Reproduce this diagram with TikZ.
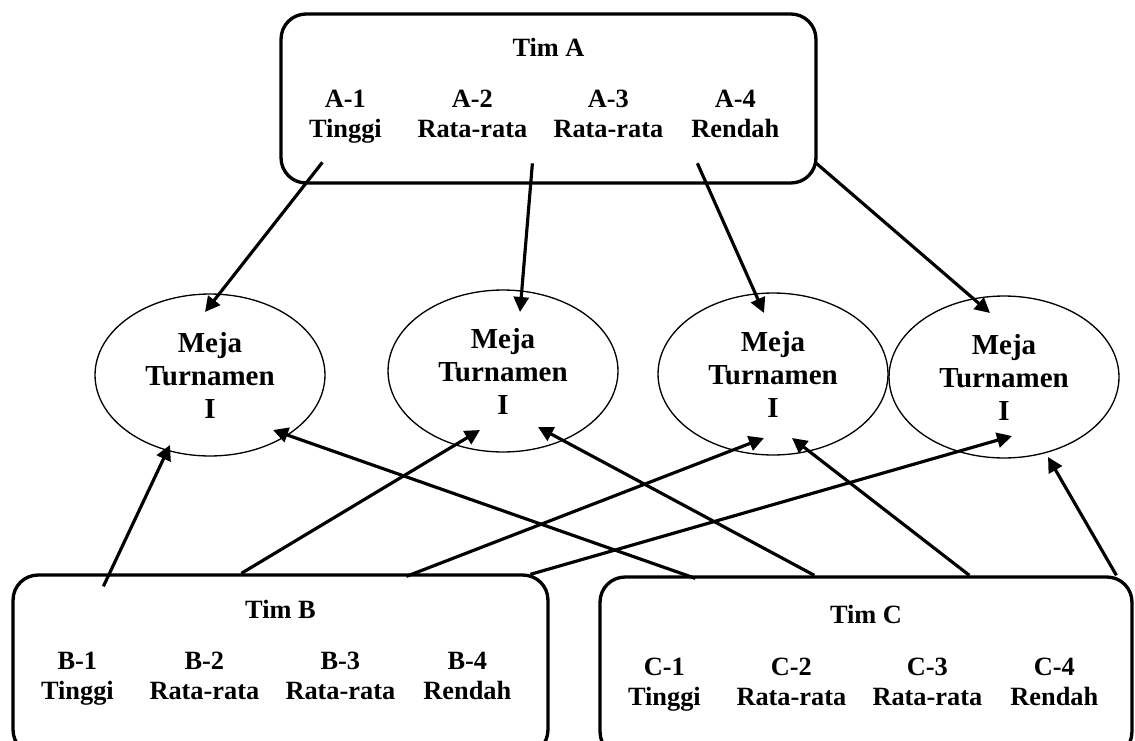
\documentclass[tikz,border=0pt]{standalone}
\usepackage{fontspec}
\setmainfont{Liberation Serif}
\usetikzlibrary{calc,arrows.meta,shapes.geometric}

\begin{document}
\begin{tikzpicture}[x=0.02cm,y=-0.02cm,line width=1.8pt,>={Triangle[length=3mm,width=3mm]},
  tim/.style={draw,line width=1.9pt,rounded corners=0.5cm,minimum width=10.7cm,minimum height=3.6cm,inner sep=0pt},
  meja/.style={draw,ellipse,line width=0.75pt,minimum width=4.6cm,minimum height=3.24cm,inner sep=0pt,align=center,font=\fontsize{16.5}{18.8}\selectfont\bfseries},
  anggota/.style={align=center,text depth=4pt,font=\fontsize{15}{17}\selectfont\bfseries}]
  \clip (0,0) rectangle (1135,740);
  % kotak tim
  \node[tim,minimum height=3.38cm] (timA) at (548.5,98.5){};
  \node[tim] (timB) at (280.5,665){};
  \node[tim,minimum width=10.64cm] (timC) at (866,667){};
  \node[anggota] (tA) at ($(timA.north)+(0,39)$){Tim A};
  \node[anggota] (tB) at ($(timB.north)+(0,40)$){Tim B};
  \node[anggota] (tC) at ($(timC.north)+(0,43)$){Tim C};
  \node[anggota] (a1) at ($(timA.north west)+(66,105)$){A-1\\Tinggi};
  \node[anggota] (a2) at ($(timA.north west)+(193,105)$){A-2\\Rata-rata};
  \node[anggota] (a3) at ($(timA.north west)+(329,105)$){A-3\\Rata-rata};
  \node[anggota] (a4) at ($(timA.north west)+(456,105)$){A-4\\Rendah};
  \node[anggota] (b1) at ($(timB.north west)+(66,106)$){B-1\\Tinggi};
  \node[anggota] (b2) at ($(timB.north west)+(193,106)$){B-2\\Rata-rata};
  \node[anggota] (b3) at ($(timB.north west)+(329,106)$){B-3\\Rata-rata};
  \node[anggota] (b4) at ($(timB.north west)+(456,106)$){B-4\\Rendah};
  \node[anggota] (c1) at ($(timC.north west)+(66,110)$){C-1\\Tinggi};
  \node[anggota] (c2) at ($(timC.north west)+(193,110)$){C-2\\Rata-rata};
  \node[anggota] (c3) at ($(timC.north west)+(329,110)$){C-3\\Rata-rata};
  \node[anggota] (c4) at ($(timC.north west)+(456,110)$){C-4\\Rendah};
  % meja turnamen
  \node[meja] (m1) at (210,375){Meja\\Turnamen\\I};
  \node[meja] (m2) at (503,371){Meja\\Turnamen\\I};
  \node[meja] (m3) at (773,374){Meja\\Turnamen\\I};
  \node[meja] (m4) at (1004,377){Meja\\Turnamen\\I};
  % dari tim A
  \draw[->] ($(timA.north west)+(43,150)$)--($(m1)+(-5,-63)$);
  \draw[->] ($(timA.north west)+(253,151)$)--($(m2)+(17,-59)$);
  \draw[->] ($(timA.north west)+(418,151)$)--($(m3)+(-9,-61)$);
  \draw[->] ($(timA.north west)+(537,151)$)--($(m4)+(-14,-64)$);
  % dari tim B
  \draw[->] ($(timB.north west)+(92,13)$)--($(m1)+(-40,70)$);
  \draw[->] ($(timB.north west)+(230,0)$)--($(m2)+(-23,59)$);
  \draw[->] ($(timB.north west)+(395,3)$)--($(m3)+(-9,64)$);
  \draw[->] ($(timB.north west)+(519,1)$)--($(m4)+(8,59)$);
  % dari tim C
  \draw[->] ($(timC.north west)+(97,3)$)--($(m1)+(63,55)$);
  \draw[->] ($(timC.north west)+(216,0)$)--($(m2)+(35,56)$);
  \draw[->] ($(timC.north west)+(371,0)$)--($(m3)+(19,64)$);
  \draw[->] ($(timC.north west)+(518,0)$)--($(m4)+(44,80)$);
\end{tikzpicture}
\end{document}
